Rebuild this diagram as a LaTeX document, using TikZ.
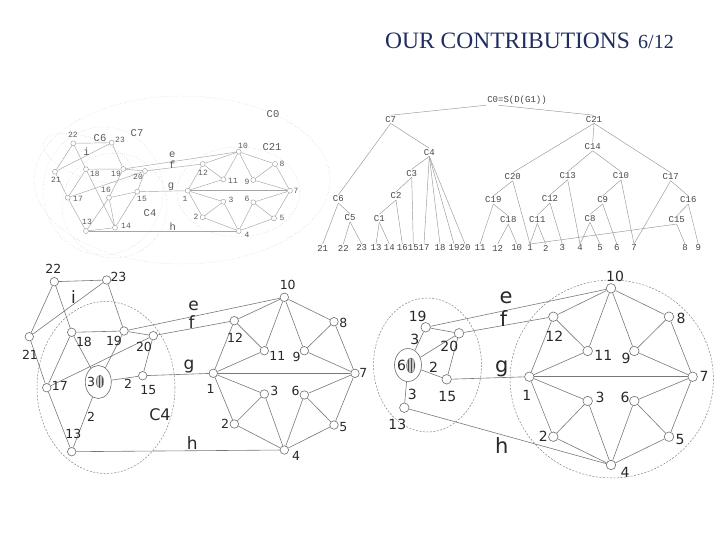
\documentclass[tikz,border=0pt]{standalone}
\usepackage{fontspec}
\setmainfont{Liberation Serif}
\newfontfamily\monof{Liberation Mono}
\newfontfamily\sansf{DejaVu Sans}
\usetikzlibrary{shapes.geometric,patterns}
\begin{document}
\begin{tikzpicture}[x=1pt,y=1pt,yscale=-1,xscale=1,
  vtx/.style={circle,draw={rgb,255:red,110;green,110;blue,110},fill=white,line width=0.6pt,inner sep=0pt,minimum size=8.5pt},
  svtx/.style={circle,draw={rgb,255:red,150;green,150;blue,150},fill=white,line width=0.4pt,inner sep=0pt,minimum size=5pt},
  bigv/.style={ellipse,draw={rgb,255:red,110;green,110;blue,110},fill=white,line width=0.6pt,inner sep=0pt},
  hatch/.style={ellipse,draw={rgb,255:red,110;green,110;blue,110},line width=0.4pt,preaction={fill=gray!45},pattern=vertical lines,pattern color=gray!60!black,inner sep=0pt},
  link/.style={draw={rgb,255:red,120;green,120;blue,120},line width=0.6pt},
  slink/.style={draw={rgb,255:red,165;green,165;blue,165},line width=0.45pt},
  tlink/.style={draw={rgb,255:red,150;green,150;blue,150},line width=0.45pt},
  clus/.style={draw={rgb,255:red,130;green,130;blue,130},dash pattern=on 2pt off 1.5pt,line width=0.5pt},
  dclus/.style={draw={rgb,255:red,190;green,190;blue,190},dotted,line width=0.45pt},
  lbl/.style={font=\sansf\fontsize{12.5}{13}\selectfont,text={rgb,255:red,40;green,40;blue,40},inner sep=0pt},
  rlbl/.style={font=\sansf\fontsize{14}{14}\selectfont,text={rgb,255:red,40;green,40;blue,40},inner sep=0pt},
  elbl/.style={font=\sansf\fontsize{17}{17}\selectfont,text={rgb,255:red,40;green,40;blue,40},inner sep=0.5pt},
  relbl/.style={font=\sansf\fontsize{21}{21}\selectfont,text={rgb,255:red,40;green,40;blue,40},inner sep=0.5pt},
  slbl/.style={font=\monof\fontsize{8}{8}\selectfont,text={rgb,255:red,90;green,90;blue,90},inner sep=0pt},
  sel/.style={font=\monof\fontsize{10.5}{10.5}\selectfont,text={rgb,255:red,90;green,90;blue,90},inner sep=0.3pt},
  tlbl/.style={font=\monof\fontsize{9}{9}\selectfont,text={rgb,255:red,70;green,70;blue,70},inner sep=0.8pt}]
\useasboundingbox (0,0) rectangle (720,540);

% title
\node[font=\fontsize{23.5}{24}\selectfont,text={rgb,255:red,31;green,45;blue,95},anchor=base west,inner sep=0pt] (title) at (385,48.3) {OUR CONTRIBUTIONS\hspace{0.35em}{\fontsize{20}{20}\selectfont 6/12}};

% ---- small graph, top left ----
\draw[dclus] (182,180) ellipse [x radius=148,y radius=84];
\draw[dclus] (103,191) ellipse [x radius=60,y radius=64];
\draw[dclus,rotate around={20:(88,158)}] (88,158) ellipse [x radius=47,y radius=20];
\draw[dclus] (114.5,205.5) ellipse [x radius=52.5,y radius=52.5];
\draw[dclus] (238.5,192) ellipse [x radius=61.5,y radius=45];
\node[sel] (lC0) at (273,114) {C0};
\node[sel] (lC7) at (137,133) {C7};
\node[sel] (lC6) at (100,138) {C6};
\node[sel] (lC4) at (150,213) {C4};
\node[sel] (lC21) at (272,147) {C21};

\node[svtx] (a22) at (73.3,143.3) {};
\node[svtx] (a23) at (111.7,142.7) {};
\node[svtx] (a21) at (55,171.7) {};
\node[svtx] (a18) at (86,169.3) {};
\node[svtx] (a19) at (123.3,169) {};
\node[svtx] (a20) at (145,171) {};
\node[svtx] (a17) at (67.7,197.7) {};
\node[svtx] (a16) at (109,197.7) {};
\node[svtx] (a15) at (137.3,191.7) {};
\node[svtx] (a13) at (86,231) {};
\node[svtx] (a14) at (115,227.7) {};
\node[svtx] (a10) at (238.7,151.7) {};
\node[svtx] (a12) at (202.7,164) {};
\node[svtx] (a11) at (223.3,179.3) {};
\node[svtx] (a9) at (253.3,180) {};
\node[svtx] (a8) at (275,164) {};
\node[svtx] (a7) at (290,190.7) {};
\node[svtx] (a1) at (187.7,190.7) {};
\node[svtx] (a3) at (223.3,201.7) {};
\node[svtx] (a6) at (253.3,202.3) {};
\node[svtx] (a2) at (202.7,217.3) {};
\node[svtx] (a5) at (274,218.3) {};
\node[svtx] (a4) at (238.7,231) {};

\draw[slink] (a22) -- (a23);
\draw[slink] (a22) -- (a21);
\draw[slink] (a22) -- (a18);
\draw[slink] (a18) -- (a14);
\draw[slink] (a23) -- node[sel,pos=0.44,above] {i} (a21);
\draw[slink] (a23) -- (a19);
\draw[slink] (a21) -- (a17);
\draw[slink] (a18) -- (a19);
\draw[slink] (a18) -- (a17);
\draw[slink] (a19) -- (a20);
\draw[slink] (a19) -- (a16);
\draw[slink] (a17) -- (a20);
\draw[slink] (a20) -- (a15);
\draw[slink] (a17) -- (a13);
\draw[slink] (a16) -- (a15);
\draw[slink] (a16) -- (a13);
\draw[slink] (a16) -- (a14);
\draw[slink] (a14) -- (a15);
\draw[slink] (a13) -- (a14);
\draw[slink] (a19) -- node[sel,pos=0.42,above=3.5pt] {e} (a10);
\draw[slink] (a20) -- node[sel,pos=0.47,above=-1.5pt] {f} (a12);
\draw[slink] (a15) -- node[sel,pos=0.69,above] {g} (a1);
\draw[slink] (a13) -- node[sel,pos=0.57,above] {h} (a4);
\draw[slink] (a10) -- (a12);
\draw[slink] (a10) -- (a11);
\draw[slink] (a10) -- (a9);
\draw[slink] (a10) -- (a8);
\draw[slink] (a12) -- (a11);
\draw[slink] (a12) -- (a1);
\draw[slink] (a11) -- (a1);
\draw[slink] (a9) -- (a8);
\draw[slink] (a9) -- (a7);
\draw[slink] (a8) -- (a7);
\draw[slink] (a1) -- (a7);
\draw[slink] (a1) -- (a3);
\draw[slink] (a1) -- (a2);
\draw[slink] (a3) -- (a2);
\draw[slink] (a3) -- (a4);
\draw[slink] (a6) -- (a4);
\draw[slink] (a6) -- (a7);
\draw[slink] (a6) -- (a5);
\draw[slink] (a5) -- (a7);
\draw[slink] (a5) -- (a4);
\draw[slink] (a2) -- (a4);

\node[slbl] (a22l) at (73,135) {22};
\node[slbl] (a23l) at (120,140) {23};
\node[slbl] (a21l) at (56,180) {21};
\node[slbl] (a18l) at (95,174) {18};
\node[slbl] (a19l) at (116,174) {19};
\node[slbl] (a20l) at (138,177) {20};
\node[slbl] (a17l) at (78,199) {17};
\node[slbl] (a16l) at (106,190) {16};
\node[slbl] (a15l) at (142,199) {15};
\node[slbl] (a13l) at (87,222) {13};
\node[slbl] (a14l) at (126,226) {14};
\node[slbl] (a10l) at (243,146) {10};
\node[slbl] (a12l) at (203,173) {12};
\node[slbl] (a11l) at (233,181) {11};
\node[slbl] (a9l) at (247,182) {9};
\node[slbl] (a8l) at (282,164) {8};
\node[slbl] (a7l) at (296,191) {7};
\node[slbl] (a1l) at (185,199) {1};
\node[slbl] (a3l) at (231,200) {3};
\node[slbl] (a6l) at (247,199) {6};
\node[slbl] (a2l) at (196,217) {2};
\node[slbl] (a5l) at (282,218) {5};
\node[slbl] (a4l) at (247,235) {4};

% ---- decomposition tree ----
\node[tlbl] (t0) at (517,100) {C0=S(D(G1))};
\node[tlbl] (tC7) at (390.7,119.3) {C7};
\node[tlbl] (tC4) at (429.3,152.3) {C4};
\node[tlbl] (tC3) at (411.7,173.3) {C3};
\node[tlbl] (tC2) at (396,196) {C2};
\node[tlbl] (tC1) at (379.3,218.3) {C1};
\node[tlbl] (tC6) at (338.3,199) {C6};
\node[tlbl] (tC5) at (350,217.7) {C5};
\node[tlbl] (tC21) at (594,119.3) {C21};
\node[tlbl] (tC20) at (512.7,176.7) {C20};
\node[tlbl] (tC19) at (493.3,200) {C19};
\node[tlbl] (tC18) at (508.3,220) {C18};
\node[tlbl] (tC14) at (592.7,146.7) {C14};
\node[tlbl] (tC13) at (567.7,175.7) {C13};
\node[tlbl] (tC10) at (621,175.7) {C10};
\node[tlbl] (tC17) at (670.7,176.7) {C17};
\node[tlbl] (tC12) at (550,199) {C12};
\node[tlbl] (tC9) at (602.7,200) {C9};
\node[tlbl] (tC16) at (688.3,200) {C16};
\node[tlbl] (tC11) at (537.3,219.3) {C11};
\node[tlbl] (tC8) at (590,218.3) {C8};
\node[tlbl] (tC15) at (676.7,220) {C15};

\node[tlbl] (t21) at (322.7,248) {21};
\node[tlbl] (t22) at (343.3,248) {22};
\node[tlbl] (t23) at (361.7,248) {23};
\node[tlbl] (t13) at (376,248) {13};
\node[tlbl] (t14) at (389.3,248) {14};
\node[tlbl] (t16) at (402.3,248) {16};
\node[tlbl] (t15) at (413.3,248) {15};
\node[tlbl] (t17) at (424,248) {17};
\node[tlbl] (t18) at (440,248) {18};
\node[tlbl] (t19) at (454,248) {19};
\node[tlbl] (t20) at (465,248) {20};
\node[tlbl] (t11) at (480,248) {11};
\node[tlbl] (t12) at (497.7,248) {12};
\node[tlbl] (t10) at (516.7,248) {10};
\node[tlbl] (t1) at (530,248) {1};
\node[tlbl] (t2) at (545.7,248) {2};
\node[tlbl] (t3) at (562.3,248) {3};
\node[tlbl] (t4) at (580,248) {4};
\node[tlbl] (t5) at (600,248) {5};
\node[tlbl] (t6) at (616.7,248) {6};
\node[tlbl] (t7) at (634,248) {7};
\node[tlbl] (t8) at (685,248) {8};
\node[tlbl] (t9) at (698.3,248) {9};

\draw[tlink] (t0.south west) -- (tC7.north);
\draw[tlink] ([xshift=12pt]t0.south west) -- (tC21.north);
\draw[tlink] (tC7.south) -- (tC6.north);
\draw[tlink] (tC7.south) -- (tC4.north);
\draw[tlink] (tC6.south) -- (t21.north);
\draw[tlink] (tC6.south) -- (tC5.north);
\draw[tlink] (tC5.south) -- (t22.north);
\draw[tlink] (tC5.south) -- (t23.north);
\draw[tlink] (tC4.south) -- (tC3.north);
\draw[tlink] (tC4.south) -- (t17.north);
\draw[tlink] (tC4.south) -- (t18.north);
\draw[tlink] (tC4.south) -- (t19.north);
\draw[tlink] (tC4.south) -- (t20.north);
\draw[tlink] (tC3.south) -- (tC2.north);
\draw[tlink] (tC3.south) -- (t15.north);
\draw[tlink] (tC2.south) -- (tC1.north);
\draw[tlink] (tC2.south) -- (t16.north);
\draw[tlink] (tC1.south) -- (t13.north);
\draw[tlink] (tC1.south) -- (t14.north);
\draw[tlink] (tC21.south) -- (tC20.north);
\draw[tlink] (tC21.south) -- (tC14.north);
\draw[tlink] (tC21.south) -- (tC17.north);
\draw[tlink] (tC20.south) -- (tC19.north);
\draw[tlink] (tC20.south) -- (t1.north);
\draw[tlink] (tC19.south) -- (t11.north);
\draw[tlink] (tC19.south) -- (tC18.north);
\draw[tlink] (tC18.south) -- (t12.north);
\draw[tlink] (tC18.south) -- (t10.north);
\draw[tlink] (tC14.south) -- (tC13.north);
\draw[tlink] (tC14.south) -- (tC10.north);
\draw[tlink] (tC13.south) -- (tC12.north);
\draw[tlink] (tC13.south) -- (t4.north);
\draw[tlink] (tC12.south) -- (tC11.north);
\draw[tlink] (tC12.south) -- (t3.north);
\draw[tlink] (tC11.south) -- (t1.north);
\draw[tlink] (tC11.south) -- (t2.north);
\draw[tlink] (tC10.south) -- (tC9.north);
\draw[tlink] (tC10.south) -- (t7.north);
\draw[tlink] (tC9.south) -- (tC8.north);
\draw[tlink] (tC9.south) -- (t6.north);
\draw[tlink] (tC8.south) -- (t4.north);
\draw[tlink] (tC8.south) -- (t5.north);
\draw[tlink] (tC17.south) -- (t7.north);
\draw[tlink] (tC17.south) -- (tC16.north);
\draw[tlink] (tC16.south) -- (tC15.north);
\draw[tlink] (tC16.south) -- (t9.north);
\draw[tlink] (tC15.south) -- (t8.north);
\draw[tlink] (tC15.south) -- (t1.north);

% ---- bottom left: C4 contracted ----
\draw[clus] (106,387.5) ellipse [x radius=69,y radius=86];
\node[lbl,font=\sansf\fontsize{16}{16}\selectfont] (bC4) at (160,415) {C4};

\node[vtx] (b22) at (54.3,281.7) {};
\node[vtx] (b23) at (106.7,280) {};
\node[vtx] (b21) at (29.3,336.7) {};
\node[vtx] (b18) at (71.7,332.3) {};
\node[vtx] (b19) at (124,331) {};
\node[vtx] (b20) at (153.3,335.7) {};
\node[vtx] (b17) at (46.7,387.7) {};
\node[bigv,minimum width=26pt,minimum height=33pt] (bS) at (98.3,382) {};
\node[hatch,minimum width=7.4pt,minimum height=13pt] (bSin) at (100,381.5) {};
\node[vtx] (b15) at (142.7,375.7) {};
\node[vtx] (b13) at (71.7,451.7) {};
\node[vtx] (b10) at (284.3,297.3) {};
\node[vtx] (b12) at (234.3,320.7) {};
\node[vtx] (b11) at (264.3,350.7) {};
\node[vtx] (b9) at (304.3,350.7) {};
\node[vtx] (b8) at (334,321.7) {};
\node[vtx] (b7) at (355,373.3) {};
\node[vtx] (b1) at (213.3,373.3) {};
\node[vtx] (b3) at (264.3,394) {};
\node[vtx] (b6) at (304.3,395) {};
\node[vtx] (b2) at (234.3,424) {};
\node[vtx] (b5) at (334,425) {};
\node[vtx] (b4) at (284.3,450) {};

\draw[link] (b22) -- (b23);
\draw[link] (b22) -- (b21);
\draw[link] (b22) -- (b18);
\draw[link] (b23) -- node[elbl,pos=0.42,above,inner sep=0pt] {i} (b21);
\draw[link] (b23) -- (b19);
\draw[link] (b21) -- (b17);
\draw[link] (b18) -- (b19);
\draw[link] (b18) -- (b17);
\draw[link] (b18) -- (bS);
\draw[link] (b19) -- (bS);
\draw[link] (b19) -- (b20);
\draw[link] (b17) -- (b20);
\draw[link] (b17) -- (b13);
\draw[link] (b20) -- (b15);
\draw[link] (bS) -- node[lbl,pos=0.62,below=1.5pt] {2} (b15);
\draw[link] (bS) -- node[lbl,pos=0.4,right=2pt] {2} (b13);
\draw[link] (b19) -- node[elbl,pos=0.43,above=5pt] {e} (b10);
\draw[link] (b20) -- node[elbl,pos=0.47,above=-0.5pt] {f} (b12);
\draw[link] (b15) -- node[elbl,pos=0.68,above] {g} (b1);
\draw[link] (b13) -- node[elbl,pos=0.57,above] {h} (b4);
\draw[link] (b10) -- (b12);
\draw[link] (b10) -- (b11);
\draw[link] (b10) -- (b9);
\draw[link] (b10) -- (b8);
\draw[link] (b12) -- (b11);
\draw[link] (b12) -- (b1);
\draw[link] (b11) -- (b1);
\draw[link] (b9) -- (b8);
\draw[link] (b9) -- (b7);
\draw[link] (b8) -- (b7);
\draw[link] (b1) -- (b7);
\draw[link] (b1) -- (b3);
\draw[link] (b1) -- (b2);
\draw[link] (b3) -- (b2);
\draw[link] (b3) -- (b4);
\draw[link] (b6) -- (b4);
\draw[link] (b6) -- (b7);
\draw[link] (b6) -- (b5);
\draw[link] (b5) -- (b7);
\draw[link] (b5) -- (b4);
\draw[link] (b2) -- (b4);

\node[lbl] (b22l) at (53.3,269) {22};
\node[lbl] (b23l) at (118.5,276.5) {23};
\node[lbl] (b21l) at (30,355) {21};
\node[lbl] (b18l) at (84,342.3) {18};
\node[lbl] (b19l) at (114,341) {19};
\node[lbl] (b20l) at (144,346.7) {20};
\node[lbl] (b17l) at (59.8,386) {17};
\node[lbl] (bSl) at (91,382) {3};
\node[lbl] (b15l) at (148.3,390) {15};
\node[lbl] (b13l) at (73.3,434) {13};
\node[lbl] (b10l) at (287.7,285) {10};
\node[lbl] (b12l) at (235,338.3) {12};
\node[lbl] (b11l) at (277.3,356) {11};
\node[lbl] (b9l) at (296.7,357.3) {9};
\node[lbl] (b8l) at (343.3,322.7) {8};
\node[lbl] (b7l) at (363.3,373.3) {7};
\node[lbl] (b1l) at (210.7,389.3) {1};
\node[lbl] (b3l) at (274.3,390.7) {3};
\node[lbl] (b6l) at (295.7,390.7) {6};
\node[lbl] (b2l) at (225,424) {2};
\node[lbl] (b5l) at (343.3,427.3) {5};
\node[lbl] (b4l) at (296,455.7) {4};

% ---- bottom right: C7 contracted ----
\draw[clus] (427.5,365) ellipse [x radius=54,y radius=67];
\draw[clus] (611.7,379) ellipse [x radius=101.7,y radius=99];

\node[vtx,minimum size=9.5pt] (c19) at (425.7,327.3) {};
\node[vtx,minimum size=9.5pt] (c20) at (459,333.3) {};
\node[bigv,minimum width=27pt,minimum height=33pt] (cS) at (408,365) {};
\node[hatch,minimum width=8.4pt,minimum height=15pt] (cSin) at (410.8,365.5) {};
\node[vtx,minimum size=9.5pt] (c15) at (446.7,379.3) {};
\node[vtx,minimum size=9.5pt] (c13) at (404.3,407.7) {};
\node[vtx,minimum size=9.5pt] (c10) at (611,288.3) {};
\node[vtx,minimum size=9.5pt] (c12) at (553.3,316.7) {};
\node[vtx,minimum size=9.5pt] (c8) at (669,316.7) {};
\node[vtx,minimum size=9.5pt] (c11) at (587.7,351) {};
\node[vtx,minimum size=9.5pt] (c9) at (634.3,351) {};
\node[vtx,minimum size=9.5pt] (c1) at (529.3,376.7) {};
\node[vtx,minimum size=9.5pt] (c7) at (692.7,376.7) {};
\node[vtx,minimum size=9.5pt] (c3) at (587.7,401) {};
\node[vtx,minimum size=9.5pt] (c6) at (634.3,401) {};
\node[vtx,minimum size=9.5pt] (c2) at (553.3,436.7) {};
\node[vtx,minimum size=9.5pt] (c5) at (669,436.7) {};
\node[vtx,minimum size=9.5pt] (c4) at (611,465) {};

\draw[link] (c19) -- (c20);
\draw[link] (c19) -- node[rlbl,pos=0.4,left=0.5pt] {3} (cS);
\draw[link] (c20) -- (cS);
\draw[link] (c20) -- (c15);
\draw[link] (cS) -- node[rlbl,pos=0.6,above=1.5pt] {2} (c15);
\draw[link] (cS) -- node[rlbl,pos=0.6,right=2pt] {3} (c13);
\draw[link] (c19) -- node[relbl,pos=0.43,above=6pt] {e} (c10);
\draw[link] (c20) -- node[relbl,pos=0.47,above=-2pt] {f} (c12);
\draw[link] (c15) -- node[relbl,pos=0.69,above] {g} (c1);
\draw[link] (c13) -- node[relbl,pos=0.47,below=2pt] {h} (c4);
\draw[link] (c10) -- (c12);
\draw[link] (c10) -- (c11);
\draw[link] (c10) -- (c9);
\draw[link] (c10) -- (c8);
\draw[link] (c12) -- (c11);
\draw[link] (c12) -- (c1);
\draw[link] (c11) -- (c1);
\draw[link] (c9) -- (c8);
\draw[link] (c9) -- (c7);
\draw[link] (c8) -- (c7);
\draw[link] (c1) -- (c7);
\draw[link] (c1) -- (c3);
\draw[link] (c1) -- (c2);
\draw[link] (c3) -- (c2);
\draw[link] (c3) -- (c4);
\draw[link] (c6) -- (c4);
\draw[link] (c6) -- (c7);
\draw[link] (c6) -- (c5);
\draw[link] (c5) -- (c7);
\draw[link] (c5) -- (c4);
\draw[link] (c2) -- (c4);

\node[rlbl] (c19l) at (417.7,316.7) {19};
\node[rlbl] (c20l) at (449.3,346) {20};
\node[rlbl] (cSl) at (401.5,365.5) {6};
\node[rlbl] (c15l) at (447.3,396.7) {15};
\node[rlbl] (c13l) at (397.3,424) {13};
\node[rlbl] (c10l) at (615,276.7) {10};
\node[rlbl] (c12l) at (554.3,336) {12};
\node[rlbl] (c11l) at (603.3,355.7) {11};
\node[rlbl] (c9l) at (626,358.3) {9};
\node[rlbl] (c8l) at (681,318.3) {8};
\node[rlbl] (c7l) at (704,376) {7};
\node[rlbl] (c1l) at (526.7,395) {1};
\node[rlbl] (c3l) at (600,397.7) {3};
\node[rlbl] (c6l) at (625,397.7) {6};
\node[rlbl] (c2l) at (543.3,436.7) {2};
\node[rlbl] (c5l) at (680,439) {5};
\node[rlbl] (c4l) at (625,472.3) {4};
\end{tikzpicture}
\end{document}
